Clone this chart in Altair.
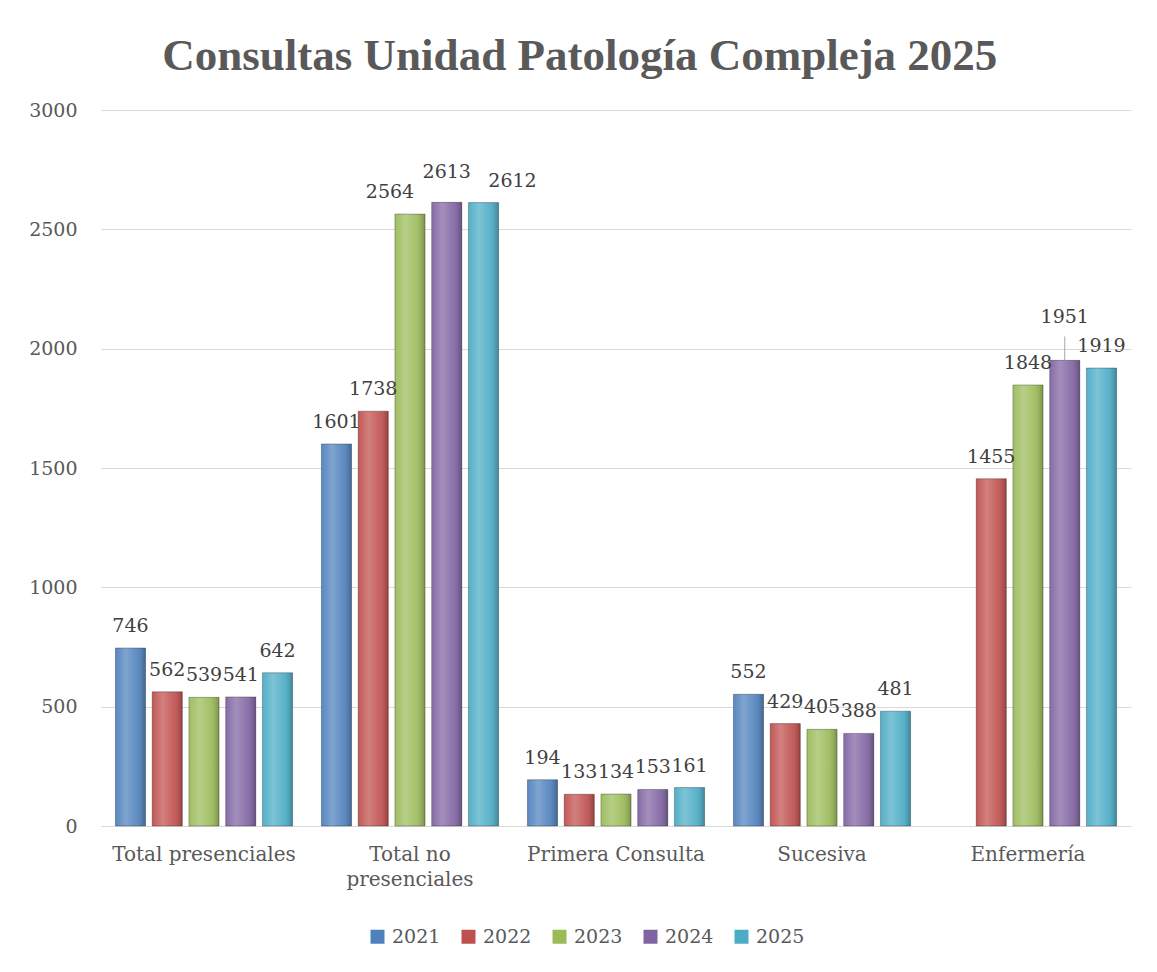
import altair as alt
import pandas as pd

categories = ["Total presenciales", "Total no presenciales", "Primera Consulta", "Sucesiva", "Enfermería"]
years = ["2021", "2022", "2023", "2024", "2025"]
v2021 = [746, 1601, 194, 552, None]
v2022 = [562, 1738, 133, 429, 1455]
v2023 = [539, 2564, 134, 405, 1848]
v2024 = [541, 2613, 153, 388, 1951]
v2025 = [642, 2612, 161, 481, 1919]
colors = ["#4F81BD", "#C0504D", "#9BBB59", "#8064A2", "#4BACC6"]

# label nudges (style only), keyed by (category, year): (dx, dy)
label_nudge = {
    ("Total no presenciales", "2023"): (-20, 0),
    ("Total no presenciales", "2024"): (0, -8),
    ("Total no presenciales", "2025"): (29, 0),
    ("Enfermería", "2024"): (0, -21),
}

series = [v2021, v2022, v2023, v2024, v2025]
rows = []
for yr, vals in zip(years, series):
    for c, v in zip(categories, vals):
        dx, dy = label_nudge.get((c, yr), (0, 0))
        rows.append({"categoria": c, "anio": yr, "valor": v, "ndx": dx, "ndy": dy})
df = pd.DataFrame(rows)

FONT = "DejaVu Serif"
TFONT = "Liberation Serif"
GREY = "#595959"
FS = 19

x_enc = alt.X("categoria:N", sort=categories, title=None,
              scale=alt.Scale(paddingInner=0.14, paddingOuter=0.07),
              axis=alt.Axis(labelAngle=0, labelFont=FONT, labelFontSize=20, labelColor=GREY,
                            ticks=False, domainColor="#d9d9d9", labelPadding=18, labelLineHeight=25,
                            labelLimit=400,
                            labelExpr="datum.value == 'Total no presenciales' ? ['Total no', 'presenciales'] : datum.value"))
xo_enc = alt.XOffset("anio:N", sort=years, scale=alt.Scale(paddingInner=0.18))
y_enc = alt.Y("valor:Q", title=None,
              scale=alt.Scale(domain=[0, 3000]),
              axis=alt.Axis(values=[0, 500, 1000, 1500, 2000, 2500, 3000], format="d", grid=True,
                            gridColor="#d9d9d9", domain=False, ticks=False, labelFont=FONT,
                            labelFontSize=FS, labelColor=GREY, labelPadding=24))

base = alt.Chart(df).transform_filter("isValid(datum.valor)")

bars = base.mark_bar().encode(
    x=x_enc, xOffset=xo_enc, y=y_enc,
    color=alt.Color("anio:N", sort=years, title=None,
                    scale=alt.Scale(domain=years, range=colors),
                    legend=alt.Legend(orient="none", legendX=267, legendY=817, direction="horizontal",
                                      symbolType="square", symbolSize=196, labelFont=FONT,
                                      labelFontSize=FS, labelColor=GREY, labelOffset=5,
                                      columnPadding=18, symbolStrokeWidth=0)),
)

shade = base.mark_bar(
    fill=alt.Gradient(gradient="linear", x1=0, x2=1, y1=0, y2=0,
                      stops=[alt.GradientStop(color="rgba(255,255,255,0.05)", offset=0),
                             alt.GradientStop(color="rgba(255,255,255,0.28)", offset=0.35),
                             alt.GradientStop(color="rgba(255,255,255,0.10)", offset=0.7),
                             alt.GradientStop(color="rgba(0,0,0,0.22)", offset=1)]),
    stroke="rgba(0,0,0,0.35)", strokeWidth=0.8,
).encode(x=x_enc, xOffset=xo_enc, y=y_enc)


def nudged(dx, dy, cond):
    return base.transform_filter(cond).mark_text(
        font=FONT, fontSize=FS, color="#404040", baseline="alphabetic", dx=dx, dy=-16 + dy).encode(
        x=x_enc, xOffset=xo_enc, y=y_enc, text=alt.Text("valor:Q", format="d"))


label_layers = [nudged(0, 0, "datum.ndx == 0 && datum.ndy == 0")]
for (c, yr), (dx, dy) in label_nudge.items():
    label_layers.append(nudged(dx, dy, f"datum.categoria == '{c}' && datum.anio == '{yr}'"))

leader = base.transform_filter("datum.ndy < -15").transform_calculate(
    ltop="datum.valor + 100").mark_rule(color="#a6a6a6", strokeWidth=1).encode(
    x=x_enc, xOffset=xo_enc, y=y_enc, y2=alt.Y2("ltop:Q"))

chart = alt.layer(bars, shade, leader, *label_layers).properties(
    width=1030, height=716,
    background="white",
    padding={"left": 20, "top": 26, "right": 10, "bottom": 10},
    title=alt.TitleParams("Consultas Unidad Patología Compleja 2025", font=TFONT, fontSize=45,
                          fontWeight="bold", color=GREY, anchor="middle", frame="bounds", offset=22),
).configure_view(stroke="transparent", strokeWidth=0)

chart.save("out.html", embed_options={"renderer": "svg", "actions": False})
